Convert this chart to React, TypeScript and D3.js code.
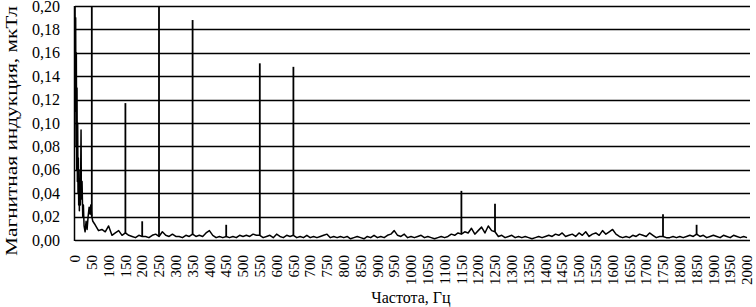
import React, { useEffect, useRef } from "react";
import * as d3 from "d3";

// low frequency part, [Hz, mkTl]
const lowBand: [number, number][] = [
  [0, 0.21], [1, 0.11], [2, 0.19], [3, 0.08], [4, 0.16], [5, 0.06], [6, 0.13],
  [7, 0.05], [8, 0.1], [9, 0.04], [10, 0.07], [11, 0.03], [12, 0.06], [13, 0.025],
  [14, 0.05], [16, 0.03], [18, 0.094], [19, 0.035], [21, 0.05], [23, 0.02],
  [25, 0.03], [27, 0.012], [30, 0.007], [33, 0.016], [36, 0.009], [39, 0.02],
  [42, 0.028], [45, 0.022], [47, 0.03], [50, 0.02], [53, 0.016],
];

// background level every 10 Hz starting at 60 Hz
const noiseStart = 60;
const noiseStep = 10;
const noise = [
  0.013, 0.008, 0.009, 0.007, 0.012, // 60-100
  0.004, 0.006, 0.008, 0.004, 0.006, 0.004, 0.003, 0.002, 0.004, 0.003, // 110-200
  0.003, 0.002, 0.004, 0.005, 0.003, 0.007, 0.004, 0.003, 0.005, 0.003, // 210-300
  0.003, 0.002, 0.004, 0.003, 0.005, 0.003, 0.004, 0.003, 0.006, 0.008, // 310-400
  0.004, 0.002, 0.003, 0.002, 0.003, 0.002, 0.003, 0.002, 0.004, 0.003, // 410-500
  0.004, 0.003, 0.005, 0.004, 0.004, 0.002, 0.003, 0.004, 0.002, 0.005, // 510-600
  0.003, 0.002, 0.004, 0.003, 0.004, 0.002, 0.003, 0.002, 0.004, 0.002, // 610-700
  0.003, 0.002, 0.003, 0.004, 0.005, 0.002, 0.003, 0.002, 0.003, 0.002, // 710-800
  0.003, 0.001, 0.002, 0.003, 0.002, 0.001, 0.003, 0.002, 0.004, 0.002, // 810-900
  0.003, 0.002, 0.004, 0.005, 0.008, 0.004, 0.003, 0.005, 0.002, 0.003, // 910-1000
  0.002, 0.003, 0.004, 0.002, 0.003, 0.002, 0.001, 0.002, 0.003, 0.002, // 1010-1100
  0.003, 0.005, 0.004, 0.006, 0.005, 0.007, 0.006, 0.01, 0.005, 0.008, // 1110-1200
  0.011, 0.006, 0.012, 0.008, 0.007, 0.003, 0.004, 0.002, 0.003, 0.004, // 1210-1300
  0.002, 0.003, 0.002, 0.003, 0.002, 0.001, 0.002, 0.003, 0.002, 0.003, // 1310-1400
  0.004, 0.003, 0.005, 0.004, 0.006, 0.003, 0.004, 0.005, 0.003, 0.006, // 1410-1500
  0.004, 0.007, 0.003, 0.005, 0.006, 0.004, 0.008, 0.005, 0.007, 0.009, // 1510-1600
  0.005, 0.003, 0.002, 0.003, 0.002, 0.004, 0.003, 0.005, 0.004, 0.003, // 1610-1700
  0.006, 0.004, 0.002, 0.003, 0.003, 0.002, 0.002, 0.003, 0.002, 0.003, // 1710-1800
  0.002, 0.003, 0.004, 0.003, 0.005, 0.003, 0.004, 0.002, 0.003, 0.004, // 1810-1900
  0.003, 0.002, 0.004, 0.003, 0.002, 0.004, 0.003, 0.002, 0.003, 0.002, // 1910-2000
];

// narrow harmonic lines, [Hz, mkTl]
const peaks: [number, number][] = [
  [50, 0.26], [150, 0.117], [200, 0.016], [250, 0.26], [350, 0.188],
  [450, 0.013], [550, 0.151], [650, 0.148], [1150, 0.042], [1250, 0.031],
  [1750, 0.022], [1850, 0.013],
];

const yTicks = [0, 0.02, 0.04, 0.06, 0.08, 0.1, 0.12, 0.14, 0.16, 0.18, 0.2];
const xTicks = d3.range(0, 2001, 50);

const yTitle = "Магнитная индукция, мкТл";
const xTitle = "Частота, Гц";

function SpectrumChart() {
  const ref = useRef<SVGSVGElement>(null);

  useEffect(() => {
    document.body.style.margin = "0";
    const svg = d3.select(ref.current);
    svg.selectAll("*").remove();

    const font = "'Liberation Serif', 'Times New Roman', serif";
    const x = d3.scaleLinear().domain([0, 2000]).range([75, 747]);
    const y = d3.scaleLinear().domain([0, 0.2]).range([240, 6]);

    const series: [number, number][] = [
      ...lowBand,
      ...noise.map((v, i) => [noiseStart + i * noiseStep, v] as [number, number]),
    ];
    const baseAt = (f: number) => {
      const p = series.find((d) => d[0] === f);
      return p ? p[1] : 0;
    };

    svg
      .append("defs")
      .append("clipPath")
      .attr("id", "plot-clip")
      .append("rect")
      .attr("x", 74)
      .attr("y", 6)
      .attr("width", 676)
      .attr("height", 235);

    // horizontal grid
    svg
      .append("g")
      .selectAll("line")
      .data(yTicks)
      .enter()
      .append("line")
      .attr("x1", x(0))
      .attr("x2", 750)
      .attr("y1", (d) => Math.round(y(d)) + 0.5)
      .attr("y2", (d) => Math.round(y(d)) + 0.5)
      .attr("stroke", "#000")
      .attr("stroke-width", 1.3);

    // left axis
    svg
      .append("line")
      .attr("x1", x(0) - 0.5)
      .attr("x2", x(0) - 0.5)
      .attr("y1", y(0.2))
      .attr("y2", y(0) + 1)
      .attr("stroke", "#000")
      .attr("stroke-width", 1.5);

    const plot = svg.append("g").attr("clip-path", "url(#plot-clip)");

    const line = d3
      .line<[number, number]>()
      .x((d) => x(d[0]))
      .y((d) => y(d[1]));

    plot
      .append("path")
      .datum(series)
      .attr("d", line)
      .attr("fill", "none")
      .attr("stroke", "#000")
      .attr("stroke-width", 1.5)
      .attr("stroke-linejoin", "round");

    plot
      .selectAll(".peak")
      .data(peaks)
      .enter()
      .append("line")
      .attr("class", "peak")
      .attr("x1", (d) => x(d[0]))
      .attr("x2", (d) => x(d[0]))
      .attr("y1", (d) => y(baseAt(d[0])))
      .attr("y2", (d) => y(d[1]))
      .attr("stroke", "#000")
      .attr("stroke-width", 1.8);

    // y tick labels
    svg
      .append("g")
      .selectAll("text")
      .data(yTicks)
      .enter()
      .append("text")
      .attr("x", 60)
      .attr("y", (d) => y(d))
      .attr("dy", "0.35em")
      .attr("text-anchor", "end")
      .style("font-family", font)
      .style("font-size", "16px")
      .text((d) => d3.format(".2f")(d).replace(".", ","));

    // x tick labels, rotated
    svg
      .append("g")
      .selectAll("text")
      .data(xTicks)
      .enter()
      .append("text")
      .attr("transform", (d) => `translate(${x(d)},255) rotate(-90)`)
      .attr("dy", "0.35em")
      .attr("text-anchor", "end")
      .style("font-family", font)
      .style("font-size", "15px")
      .text((d) => d);

    svg
      .append("text")
      .attr("transform", "translate(11,131) rotate(-90)")
      .attr("dy", "0.35em")
      .attr("text-anchor", "middle")
      .attr("textLength", 250)
      .attr("lengthAdjust", "spacingAndGlyphs")
      .style("font-family", font)
      .style("font-size", "16px")
      .text(yTitle);

    svg
      .append("text")
      .attr("x", 411)
      .attr("y", 303)
      .attr("text-anchor", "middle")
      .style("font-family", font)
      .style("font-size", "16px")
      .text(xTitle);
  }, []);

  return (
    <div>
      <svg ref={ref} width="756" height="307"></svg>
    </div>
  );
}

export default function App() {
  return <SpectrumChart />;
}
